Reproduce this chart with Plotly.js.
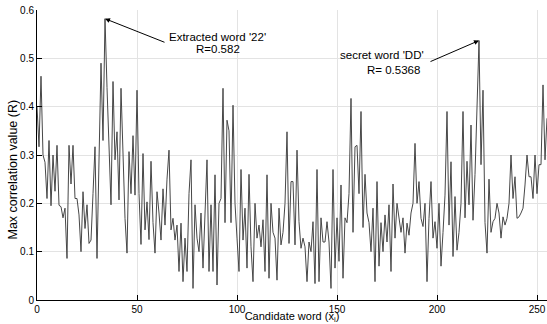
<!DOCTYPE html>
<html>
<head>
<meta charset="utf-8">
<script src="https://cdn.plot.ly/plotly-3.0.1.min.js"></script>
<style>html,body{margin:0;padding:0;background:#fff;}#chart{width:547px;height:324px;}</style>
</head>
<body>
<div id="chart"></div>
<script>
// Max correlation value R for each candidate word 0..255
const maxCorrelation = [
  0.40,0.317,0.463,0.30,0.285,0.21,0.33,0.195,0.30,0.225,
  0.32,0.196,0.193,0.17,0.19,0.086,0.32,0.24,0.32,0.21,
  0.21,0.176,0.10,0.224,0.148,0.197,0.117,0.124,0.22,0.317,
  0.086,0.29,0.49,0.33,0.582,0.44,0.33,0.197,0.452,0.29,
  0.348,0.207,0.438,0.30,0.169,0.097,0.307,0.22,0.34,0.217,
  0.434,0.22,0.115,0.303,0.145,0.203,0.125,0.287,0.16,0.097,
  0.224,0.18,0.124,0.23,0.155,0.25,0.31,0.145,0.169,0.124,
  0.155,0.059,0.159,0.038,0.128,0.059,0.22,0.29,0.024,0.197,
  0.128,0.10,0.18,0.066,0.2,0.29,0.059,0.197,0.059,0.259,
  0.031,0.2,0.21,0.438,0.16,0.372,0.35,0.16,0.403,0.2,
  0.128,0.059,0.27,0.124,0.19,0.066,0.26,0.11,0.038,0.2,
  0.128,0.155,0.11,0.166,0.059,0.259,0.045,0.2,0.14,0.128,
  0.041,0.19,0.114,0.14,0.2,0.348,0.117,0.245,0.245,0.114,
  0.31,0.162,0.107,0.128,0.11,0.038,0.12,0.1,0.162,0.034,
  0.27,0.038,0.17,0.12,0.12,0.162,0.12,0.024,0.27,0.066,
  0.17,0.08,0.238,0.045,0.17,0.16,0.22,0.417,0.14,0.317,
  0.32,0.22,0.39,0.15,0.26,0.18,0.16,0.10,0.19,0.038,
  0.245,0.07,0.16,0.10,0.176,0.12,0.197,0.059,0.24,0.128,
  0.2,0.17,0.14,0.17,0.097,0.159,0.134,0.18,0.2,0.324,
  0.2,0.245,0.169,0.152,0.2,0.038,0.169,0.245,0.128,0.162,
  0.107,0.2,0.07,0.14,0.217,0.39,0.155,0.286,0.09,0.214,
  0.103,0.14,0.2,0.39,0.17,0.287,0.197,0.362,0.165,0.26,
  0.38,0.5368,0.28,0.434,0.16,0.097,0.25,0.14,0.162,0.169,
  0.2,0.18,0.128,0.172,0.155,0.169,0.2,0.3,0.21,0.255,
  0.169,0.172,0.18,0.19,0.238,0.3,0.255,0.255,0.21,0.3,
  0.22,0.28,0.28,0.445,0.29,0.376
];
const xTicks = [0, 50, 100, 150, 200, 250];
const yTicks = [0, 0.1, 0.2, 0.3, 0.4, 0.5, 0.6];
const yTickLabels = ["0", "0.1", "0.2", "0.3", "0.4", "0.5", "0.6"];

const extractedWord = 34;   // '22'
const extractedR = 0.582;
const secretWord = 221;     // 'DD'
const secretR = 0.5368;

const font = "Liberation Sans, Arial, Helvetica, sans-serif";

const trace = {
  y: maxCorrelation,
  type: "scatter",
  mode: "lines",
  line: {color: "#474747", width: 1},
  hoverinfo: "x+y"
};

const layout = {
  width: 547, height: 324,
  margin: {l: 37, r: 0, t: 10, b: 24},
  paper_bgcolor: "#fff", plot_bgcolor: "#fff",
  showlegend: false,
  font: {family: font, size: 10, color: "#000"},
  xaxis: {
    range: [0, 255], tickvals: xTicks, ticktext: xTicks.map(String),
    ticks: "inside", ticklen: 5, tickcolor: "#000", tickwidth: 1,
    showline: true, linecolor: "#000", linewidth: 1,
    showgrid: true, gridcolor: "#e3e3e3", gridwidth: 1, zeroline: false,
    tickfont: {family: font, size: 10, color: "#000"},
    title: {text: "Candidate word (x<sub>i</sub>)", font: {family: font, size: 11, color: "#000"}, standoff: 0},
    automargin: false
  },
  yaxis: {
    range: [0, 0.6], tickvals: yTicks, ticktext: yTickLabels,
    ticks: "inside", ticklen: 5, tickcolor: "#000", tickwidth: 1,
    showline: true, linecolor: "#000", linewidth: 1,
    showgrid: true, gridcolor: "#e3e3e3", gridwidth: 1, zeroline: false,
    tickfont: {family: font, size: 10, color: "#000"},
    automargin: false
  },
  annotations: [
    {xref: "paper", yref: "paper", x: -0.049, y: 0.45, xanchor: "center", yanchor: "middle",
     textangle: -90, text: "Max correlation value (R)", showarrow: false,
     font: {family: font, size: 12.5, color: "#000"}},
    {x: extractedWord, y: extractedR, xref: "x", yref: "y", axref: "x", ayref: "y",
     ax: 64.5, ay: 0.532, text: "", showarrow: true, arrowhead: 2, arrowsize: 1, arrowwidth: 1, arrowcolor: "#000"},
    {x: 90, y: 0.544, xref: "x", yref: "y", text: "Extracted word '" + "22" + "'", showarrow: false,
     font: {family: font, size: 11.5, color: "#000"}},
    {x: 90.5, y: 0.519, xref: "x", yref: "y", text: "R=" + extractedR, showarrow: false,
     font: {family: font, size: 11.5, color: "#000"}},
    {x: secretWord, y: secretR, xref: "x", yref: "y", axref: "x", ayref: "y",
     ax: 196, ay: 0.492, text: "", showarrow: true, arrowhead: 2, arrowsize: 1, arrowwidth: 1, arrowcolor: "#000"},
    {x: 172.5, y: 0.507, xref: "x", yref: "y", text: "secret word 'DD'", showarrow: false,
     font: {family: font, size: 11.5, color: "#000"}},
    {x: 178, y: 0.476, xref: "x", yref: "y", text: "R= " + secretR, showarrow: false,
     font: {family: font, size: 11.5, color: "#000"}}
  ]
};

Plotly.newPlot("chart", [trace], layout, {displayModeBar: false, staticPlot: true});
</script>
</body>
</html>
